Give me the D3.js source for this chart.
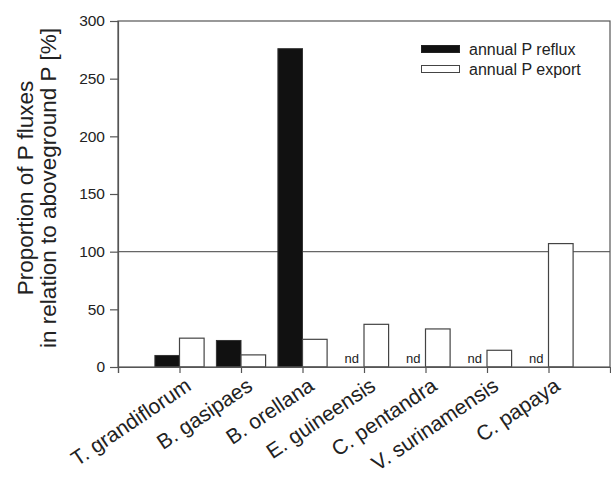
<!DOCTYPE html>
<html>
<head>
<meta charset="utf-8">
<script src="https://cdn.jsdelivr.net/npm/d3@7"></script>
<style>
  html, body { margin: 0; padding: 0; background: #fff; }
  svg { display: block; font-family: "Liberation Sans", Arial, sans-serif; }
</style>
</head>
<body>
<svg id="chart" width="611" height="477"></svg>
<script>
const categories = ["T. grandiflorum", "B. gasipaes", "B. orellana", "E. guineensis", "C. pentandra", "V. surinamensis", "C. papaya"];
const refluxValues = [10, 23, 276, null, null, null, null];
const exportValues = [25, 10.5, 24, 37, 33, 14.5, 107];
const yTicks = [0, 50, 100, 150, 200, 250, 300];
const seriesNames = ["annual P reflux", "annual P export"];
const referenceValue = 100;

(function () {
const svg = d3.select("#chart");
const pLeft = 118, pRight = 610, pTop = 21, pBottom = 367;
const axisColor = "#555";

const x = d3.scaleLinear().domain([-1, categories.length]).range([pLeft, pRight]);
const y = d3.scaleLinear().domain([0, 300]).range([pBottom, pTop]);
const barW = 0.4;

// reference line at 100
svg.append("line")
  .attr("x1", pLeft).attr("x2", pRight)
  .attr("y1", y(referenceValue)).attr("y2", y(referenceValue))
  .attr("stroke", "#666").attr("stroke-width", 1.2);

// bars
const g = svg.append("g");
categories.forEach((c, i) => {
  const r = refluxValues[i];
  if (r !== null) {
    g.append("rect")
      .attr("x", x(i - barW)).attr("width", x(i) - x(i - barW))
      .attr("y", y(r)).attr("height", y(0) - y(r))
      .attr("fill", "#111").attr("stroke", "#333").attr("stroke-width", 1);
  } else {
    g.append("text")
      .attr("x", x(i - barW / 2)).attr("y", y(0) - 4)
      .attr("text-anchor", "middle")
      .attr("font-size", 13).attr("fill", "#222")
      .text("nd");
  }
  const e = exportValues[i];
  g.append("rect")
    .attr("x", x(i)).attr("width", x(i + barW) - x(i))
    .attr("y", y(e)).attr("height", y(0) - y(e))
    .attr("fill", "#fff").attr("stroke", "#444").attr("stroke-width", 1.2);
});

// frame
svg.append("rect")
  .attr("x", pLeft).attr("y", pTop)
  .attr("width", pRight - pLeft).attr("height", pBottom - pTop)
  .attr("fill", "none").attr("stroke", axisColor).attr("stroke-width", 1.2);

// y axis
const yAxis = d3.axisLeft(y).tickValues(yTicks).tickSize(8).tickPadding(5);
const ya = svg.append("g").attr("transform", `translate(${pLeft},0)`).call(yAxis);
ya.select(".domain").attr("stroke", axisColor).attr("stroke-width", 1.2);
ya.selectAll(".tick line").attr("stroke", axisColor).attr("stroke-width", 1.2);
ya.selectAll(".tick text").attr("font-size", 15.5).attr("fill", "#222")
  .attr("font-family", "Liberation Sans, Arial, sans-serif");

// x axis
const xTickVals = d3.range(-1, categories.length);
const xAxis = d3.axisBottom(x).tickValues(xTickVals).tickSize(6).tickFormat("");
const xa = svg.append("g").attr("transform", `translate(0,${pBottom})`).call(xAxis);
xa.select(".domain").attr("stroke", axisColor).attr("stroke-width", 1.2);
xa.selectAll(".tick line").attr("stroke", axisColor).attr("stroke-width", 1.2);

// x labels
svg.append("g").selectAll("text")
  .data(categories)
  .join("text")
  .attr("transform", (d, i) => `translate(${x(i) + 13},${pBottom + 22}) rotate(-34)`)
  .attr("text-anchor", "end")
  .attr("font-size", 21).attr("fill", "#222")
  .text(d => d);

// y title
const yt = svg.append("text")
  .attr("transform", `translate(0,188) rotate(-90)`)
  .attr("text-anchor", "middle")
  .attr("font-size", 22.5).attr("fill", "#222");
yt.append("tspan").attr("x", 0).attr("y", 33).text("Proportion of P fluxes");
yt.append("tspan").attr("x", 0).attr("y", 56).text("in relation to aboveground P [%]");

// legend
const leg = svg.append("g");
seriesNames.forEach((s, i) => {
  leg.append("rect")
    .attr("x", 421.5).attr("y", 45.5 + i * 20)
    .attr("width", 38).attr("height", 7)
    .attr("fill", i === 0 ? "#111" : "#fff")
    .attr("stroke", i === 0 ? "#222" : "#444").attr("stroke-width", 1);
  leg.append("text")
    .attr("x", 469).attr("y", 54.5 + i * 20)
    .attr("font-size", 16).attr("fill", "#222")
    .text(s);
});
})();
</script>
</body>
</html>
